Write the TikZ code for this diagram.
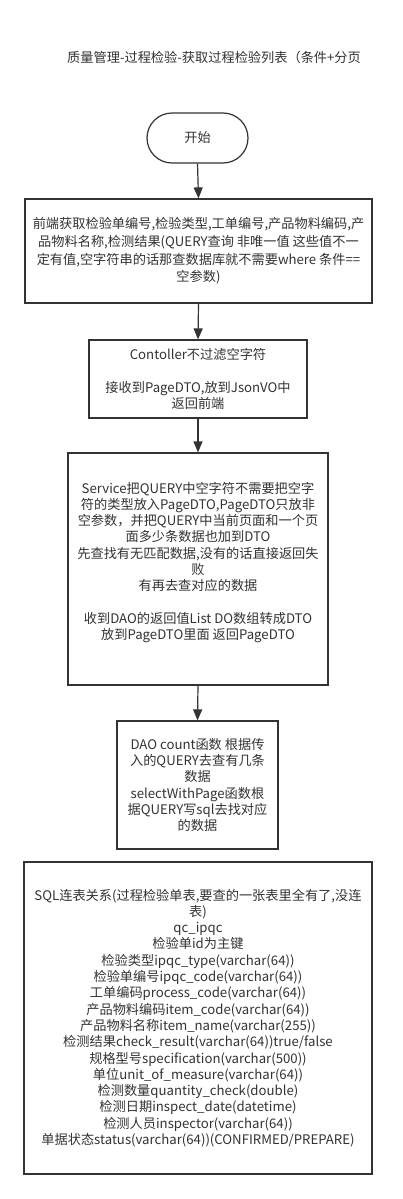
\documentclass[tikz,border=0pt]{standalone}
\usepackage{fontspec}
\setmainfont{Noto Sans CJK SC}
\usetikzlibrary{arrows.meta}
\definecolor{linec}{HTML}{333333}
\definecolor{textc}{HTML}{333333}
\begin{document}
\begin{tikzpicture}[x=1pt,y=1pt,
  every node/.style={text=textc, font=\fontsize{13.2}{16.3}\selectfont, inner sep=0pt},
  procbox/.style={draw=linec, line width=1.2pt, align=center, fill=white},
  startbox/.style={draw=linec, line width=1.2pt, rounded corners=25pt, fill=white, align=center},
  flow/.style={draw=linec, line width=1.2pt, -{Triangle[length=11pt,width=9pt]}}]
\useasboundingbox (0,0) rectangle (403,-1199);
\fill[white] (0,0) rectangle (403,-1199);

\node[anchor=west] (title) at (67,-57) {质量管理-过程检验-获取过程检验列表（条件+分页};

\node[startbox, minimum width=101pt, minimum height=50pt] (start) at (197.5,-138) {开始};

\node[procbox, minimum width=347pt, minimum height=104pt, font=\fontsize{13.2}{17.7}\selectfont] (b1) at (198.5,-251)
{前端获取检验单编号,检验类型,工单编号,产品物料编码,产\\
品物料名称,检测结果(QUERY查询 非唯一值 这些值不一\\
定有值,空字符串的话那查数据库就不需要where 条件==\\
空参数)};

\node[procbox, minimum width=218pt, minimum height=78pt] (b2) at (198,-379)
{Contoller不过滤空字符\\ ~\\
接收到PageDTO,放到JsonVO中\\
返回前端};

\node[procbox, minimum width=260pt, minimum height=232pt] (b3) at (198,-569) {};
\node[align=center] (b3text) at (198,-562.5)
{Service把QUERY中空字符不需要把空字\\
符的类型放入PageDTO,PageDTO只放非\\
空参数，并把QUERY中当前页面和一个页\\
面多少条数据也加到DTO\\
先查找有无匹配数据,没有的话直接返回失\\
败\\
有再去查对应的数据\\ ~\\
收到DAO的返回值List DO数组转成DTO\\
放到PageDTO里面 返回PageDTO};

\node[procbox, minimum width=161pt, minimum height=128pt] (b4) at (197.5,-785)
{DAO count函数 根据传\\
入的QUERY去查有几条\\
数据\\
selectWithPage函数根\\
据QUERY写sql去找对应\\
的数据};

\node[procbox, minimum width=348pt, minimum height=312pt] (b5) at (198,-1018)
{SQL连表关系(过程检验单表,要查的一张表里全有了,没连\\
表)\\
qc\_ipqc\\
检验单id为主键\\
检验类型ipqc\_type(varchar(64))\\
检验单编号ipqc\_code(varchar(64))\\
工单编码process\_code(varchar(64))\\
产品物料编码item\_code(varchar(64))\\
产品物料名称item\_name(varchar(255))\\
检测结果check\_result(varchar(64))true/false\\
规格型号specification(varchar(500))\\
单位unit\_of\_measure(varchar(64))\\
检测数量quantity\_check(double)\\
检测日期inspect\_date(datetime)\\
检测人员inspector(varchar(64))\\
单据状态status(varchar(64))(CONFIRMED/PREPARE)};

\draw[flow] (start.south) -- (b1.north);
\draw[flow] (b1.south) -- (b2.north);
\draw[flow] (b2.south) -- (b3.north);
\draw[flow] (b3.south) -- (b4.north);
\end{tikzpicture}
\end{document}
